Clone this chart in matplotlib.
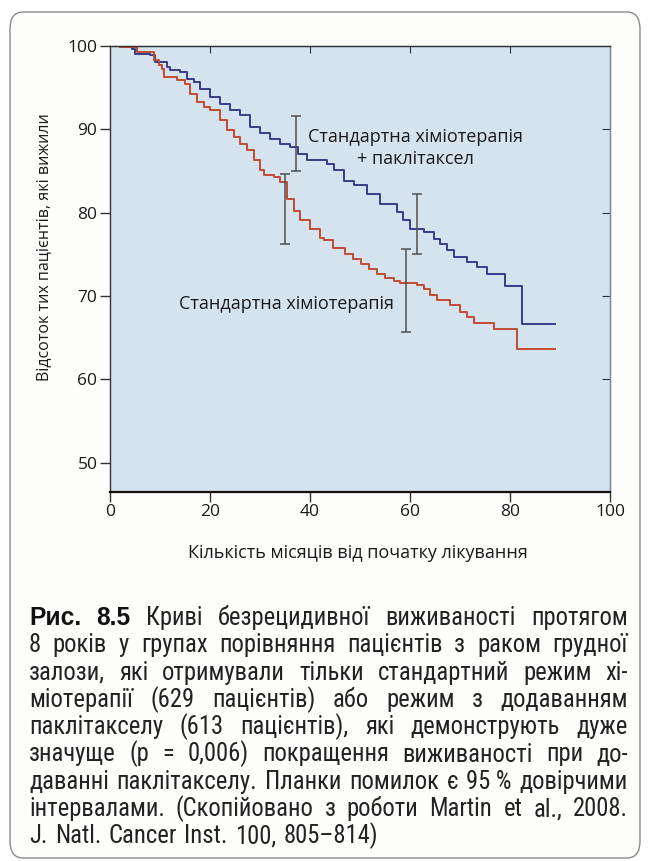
import matplotlib
matplotlib.use('Agg')
import matplotlib.pyplot as plt
from matplotlib import font_manager as fm
from matplotlib.patches import FancyBboxPatch


def pick(*names):
    for n in names:
        try:
            fm.findfont(fm.FontProperties(family=n), fallback_to_default=False)
            return n
        except ValueError:
            pass
    return 'DejaVu Sans'


# Kaplan-Meier curves (months, % surviving)
pac_t = [0, 2, 4.3, 5, 8, 9, 11.3, 12, 14, 15.3, 16.7, 18, 20, 22, 24, 26, 28, 30, 32,
         34, 36, 37.5, 39.3, 43.3, 44.7, 46.7, 48.7, 51.3, 54, 57.3, 58.5, 60, 62.7,
         64.7, 66, 67.3, 68.7, 71.3, 73.3, 75.3, 79, 82.3, 89]
pac_s = [100, 99.9, 99.7, 99.1, 98.9, 98.1, 97.5, 97.1, 96.9, 96.1, 95.7, 94.9, 93.9,
         93.1, 92.3, 91.7, 90.3, 89.6, 88.9, 88.3, 87.9, 87.1, 86.3, 85.9, 85.1, 83.8,
         83.3, 82.3, 81.1, 80.1, 79.1, 78.0, 77.7, 76.9, 76.3, 75.5, 74.7, 74.1, 73.5,
         72.7, 71.2, 66.7, 66.7]

std_t = [0, 2, 5.3, 8.7, 9.7, 10.3, 10.7, 13.3, 15, 16, 17.3, 18.7, 20, 22, 23.3, 24.7,
         26, 27.3, 28.7, 30, 30.7, 32.7, 34, 35.3, 36.7, 38, 40, 41.9, 42.7, 44.5, 46.9,
         48.5, 50.1, 51.7, 53.4, 55, 56.7, 58, 61.3, 62.7, 64, 65.3, 68, 70, 71.3, 72.7,
         76.7, 81.3, 89]
std_s = [100, 99.9, 99.3, 98.3, 97.7, 97.3, 96.3, 95.9, 95.5, 94.3, 93.3, 92.7, 92.3,
         91.1, 89.9, 89.1, 88.3, 87.5, 86.3, 85.1, 84.5, 84.3, 83.7, 81.7, 80.2, 79.1,
         78.0, 77.0, 76.7, 75.8, 75.0, 74.4, 73.8, 73.2, 72.6, 72.2, 71.8, 71.6, 71.3,
         70.9, 70.1, 69.5, 68.9, 68.1, 67.5, 66.8, 66.1, 63.7, 63.7]

# 95% confidence intervals (month, low, high)
pac_ci_t = [37.1, 61.4]
pac_ci_lo = [85.0, 75.1]
pac_ci_hi = [91.6, 82.2]
std_ci_t = [34.9, 59.1]
std_ci_lo = [76.3, 65.7]
std_ci_hi = [84.7, 75.7]

x_ticks = [0, 20, 40, 60, 80, 100]
y_ticks = [50, 60, 70, 80, 90, 100]

xlabel = 'Кількість місяців від початку лікування'
ylabel = 'Відсоток тих пацієнтів, які вижили'
pac_label = 'Стандартна хіміотерапія\n+ паклітаксел'
std_label = 'Стандартна хіміотерапія'

caption_lines = [
    'Рис. 8.5 Криві безрецидивної виживаності протягом',
    '8 років у групах порівняння пацієнтів з раком грудної',
    'залози, які отримували тільки стандартний режим хі-',
    'міотерапії (629 пацієнтів) або режим з додаванням',
    'паклітакселу (613 пацієнтів), які демонструють дуже',
    'значуще (р = 0,006) покращення виживаності при до-',
    'даванні паклітакселу. Планки помилок є 95\u00a0% довірчими',
    'інтервалами. (Скопійовано з роботи Martin et al., 2008.',
    'J. Natl. Cancer Inst. 100, 805–814)',
]

chart_font = pick('Open Sans', 'Lato', 'DejaVu Sans')
cap_font = pick('Liberation Sans Narrow', 'Roboto Condensed', 'Roboto', 'Liberation Sans')
bold_font = pick('Liberation Sans', 'DejaVu Sans')

W, H = 650, 861
fig = plt.figure(figsize=(W / 100, H / 100), dpi=100)
fig.patch.set_facecolor('white')

# page frame
fig.patches.append(FancyBboxPatch((10 / W, 1 - 858 / H), 630 / W, 846 / H,
                                  boxstyle='round,pad=0,rounding_size=0.02',
                                  transform=fig.transFigure, facecolor='#fdfdfc',
                                  edgecolor='#8a8a8a', lw=1.0, zorder=-5))

ax = fig.add_axes([110 / W, 1 - 492 / H, 500 / W, 446 / H])
ax.set_zorder(2)
ax.set_facecolor('#d5e3ef')
ax.set_xlim(0, 100)
ax.set_ylim(46.5, 100)

blue = '#3a3c8c'
red = '#c24a30'
ax.plot(pac_t, pac_s, drawstyle='steps-post', color=blue, lw=1.4)
ax.plot(std_t, std_s, drawstyle='steps-post', color=red, lw=1.4)

for ts, lo, hi in [(pac_ci_t, pac_ci_lo, pac_ci_hi), (std_ci_t, std_ci_lo, std_ci_hi)]:
    mid = [(a + b) / 2 for a, b in zip(lo, hi)]
    err = [[m - a for m, a in zip(mid, lo)], [b - m for m, b in zip(mid, hi)]]
    ax.errorbar(ts, mid, yerr=err, fmt='none', ecolor='#505050', elinewidth=1.1,
                capsize=3.6, capthick=1.1)

ax.text(61, 87.8, pac_label, ha='center', va='center', fontsize=13,
        family=chart_font, color='#1a1a1a', linespacing=1.3)
ax.text(35.2, 69.1, std_label, ha='center', va='center', fontsize=13,
        family=chart_font, color='#1a1a1a')

ax.set_xticks(x_ticks)
ax.set_yticks(y_ticks)
ax.tick_params(axis='both', direction='out', length=7, width=1, color='#333333',
               labelsize=12.5, labelcolor='#1a1a1a', pad=2)
for lab in ax.get_xticklabels() + ax.get_yticklabels():
    lab.set_family(chart_font)

top = ax.secondary_xaxis('top')
top.set_xticks([20, 40, 60, 80])
top.tick_params(direction='in', length=5, labeltop=False, color='#333333')
right = ax.secondary_yaxis('right')
right.set_yticks([60, 70, 80, 90])
right.tick_params(direction='in', length=6, labelright=False, color='#333333')
for sp in ax.spines.values():
    sp.set_color('#333333')
    sp.set_linewidth(1)
ax.spines['bottom'].set_linewidth(1.6)
ax.spines['bottom'].set_color('#111111')
ax.spines['right'].set_color('#7f8d99')

ax.set_xlabel(xlabel, fontsize=13, family=chart_font, color='#1a1a1a')
ax.set_ylabel(ylabel, fontsize=11.5, family=chart_font, color='#1a1a1a')
ax.xaxis.set_label_coords(0.496, -0.117)
ax.yaxis.set_label_coords(-0.116, 0.55)

# justified caption, one word at a time
renderer = fig.canvas.get_renderer()
left_px, right_px = 29, 628
span = right_px - left_px


def make_words(i, line, size):
    out = []
    for j, w in enumerate(line.split(' ')):
        if i == 0 and j < 2:
            t = fig.text(0, 0, w, fontsize=size, family=bold_font, weight='bold',
                         color='#111111')
        else:
            t = fig.text(0, 0, w, fontsize=size, family=cap_font, color='#222222')
        out.append(t)
    return out


# choose a size so the tightest line still has a normal word gap
base = 10.0
cap_size = 20.0
for i, line in enumerate(caption_lines[:-1]):
    ts = make_words(i, line, base)
    wsum = sum(t.get_window_extent(renderer).width for t in ts)
    for t in ts:
        t.remove()
    gap10 = 0.3 * base * 100 / 72
    need = wsum + gap10 * (len(ts) - 1)
    cap_size = min(cap_size, base * span / need)

for i, line in enumerate(caption_lines):
    y = 1 - (625 + 27.3 * i) / H
    texts = make_words(i, line, cap_size)
    widths = [t.get_window_extent(renderer).width for t in texts]
    if i == len(caption_lines) - 1:
        gap = 0.3 * cap_size * 100 / 72
    else:
        gap = (span - sum(widths)) / max(len(texts) - 1, 1)
    x = left_px
    for t, wdt in zip(texts, widths):
        t.set_position((x / W, y))
        x += wdt + gap

fig.savefig('out.png', dpi=100)
